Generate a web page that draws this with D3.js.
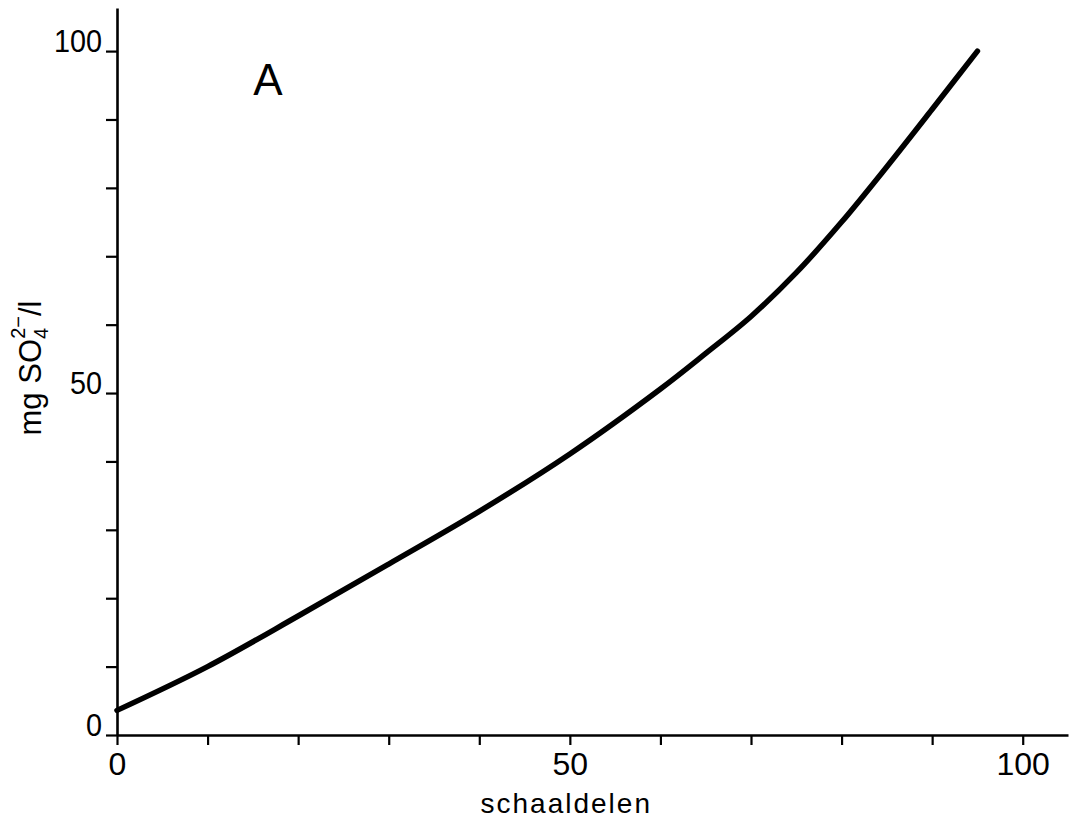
<!DOCTYPE html>
<html>
<head>
<meta charset="utf-8">
<script src="https://cdn.jsdelivr.net/npm/d3@7"></script>
<style>
  body { margin: 0; background: #fff; }
  svg { display: block; }
  text { font-family: "Liberation Sans", Arial, sans-serif; fill: #000; }
</style>
</head>
<body>
<figure id="calibration" style="margin:0"></figure>
<script>
// calibration curve
const schaaldelen = [0, 10, 20, 30, 40, 50, 60, 65, 70, 75, 80, 85, 90, 95];
const mgSulfate   = [3.6, 10.0, 17.4, 25.0, 32.7, 41.1, 50.6, 55.8, 61.2, 67.6, 75.0, 83.1, 91.5, 100];

const xTicks = [0, 10, 20, 30, 40, 50, 60, 70, 80, 90, 100];
const yTicks = [0, 10, 20, 30, 40, 50, 60, 70, 80, 90, 100];
const labelled = [0, 50, 100];

const width = 1072;
const height = 823;

const data = schaaldelen.map((s, i) => ({ s: s, mg: mgSulfate[i] }));

const svg = d3.select("figure#calibration")
  .append("svg")
  .attr("width", width)
  .attr("height", height);

const x = d3.scaleLinear()
  .domain([0, 105])
  .range([117, 1068]);

const y = d3.scaleLinear()
  .domain([0, 106.3])
  .range([735, 8]);

// X-axis
const xAxis = svg.append("g")
  .attr("transform", "translate(0," + y(0) + ")")
  .call(d3.axisBottom(x)
    .tickValues(xTicks)
    .tickSize(10)
    .tickSizeOuter(0)
    .tickFormat(d => labelled.includes(d) ? d : ""));

xAxis.select(".domain").attr("stroke-width", 2.6);
xAxis.selectAll(".tick line").attr("stroke-width", 2.2);
xAxis.selectAll(".tick text")
  .attr("y", 17)
  .attr("dy", "0.72em")
  .attr("font-size", 32);

// Y-axis
const yAxis = svg.append("g")
  .attr("transform", "translate(" + x(0) + ",0)")
  .call(d3.axisLeft(y)
    .tickValues(yTicks)
    .tickSize(11)
    .tickSizeOuter(0)
    .tickFormat(d => labelled.includes(d) ? d : ""));

yAxis.select(".domain").attr("stroke-width", 2.6);
yAxis.selectAll(".tick text")
  .attr("transform", "scale(0.9,1)")
  .attr("x", -15 / 0.9)
  .attr("dy", "0")
  .attr("font-size", 32);
yAxis.selectAll(".tick line").attr("stroke-width", 2.2);

svg.selectAll(".domain, .tick line").attr("stroke", "#000");

// the curve
svg.append("path")
  .datum(data)
  .attr("fill", "none")
  .attr("stroke", "#000")
  .attr("stroke-width", 5.5)
  .attr("stroke-linecap", "round")
  .attr("d", d3.line()
    .curve(d3.curveCatmullRom)
    .x(d => x(d.s))
    .y(d => y(d.mg)));

// axis titles
svg.append("text")
  .attr("text-anchor", "middle")
  .attr("x", x(49.6))
  .attr("y", 813)
  .style("font-size", "28px")
  .style("letter-spacing", "2px")
  .text("schaaldelen");

const yTitle = svg.append("text")
  .attr("text-anchor", "middle")
  .attr("transform", "translate(41,368)rotate(-90)")
  .style("font-size", "31px");
yTitle.append("tspan").text("mg SO");
yTitle.append("tspan").attr("dy", 7).style("font-size", "20px").text("4");
yTitle.append("tspan").attr("dx", -11).attr("dy", -23).style("font-size", "20px").text("2\u2212");
yTitle.append("tspan").attr("dy", 16).text("/l");

// panel letter
svg.append("text")
  .attr("text-anchor", "middle")
  .attr("x", 268)
  .attr("y", 95)
  .style("font-size", "44px")
  .text("A");
</script>
</body>
</html>
